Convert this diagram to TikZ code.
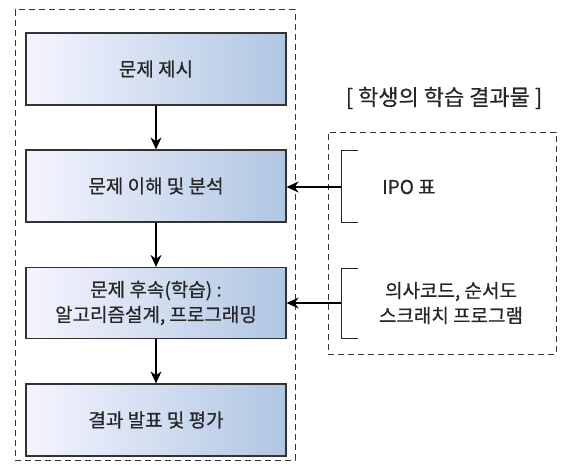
\documentclass[tikz,border=0pt]{standalone}
\usepackage{fontspec}
\newfontfamily\kr[FakeBold=0.6]{Noto Sans CJK KR}
\usetikzlibrary{arrows.meta}
\begin{document}
\begin{tikzpicture}[x=1pt,y=-1pt,
  stepbox/.style={draw=black!80, line width=1.2pt, left color=blue!4!white, right color={rgb,255:red,176;green,198;blue,226}, minimum width=260pt, minimum height=72pt, inner sep=0pt, align=center, font=\kr\fontsize{19}{25}\selectfont, text=black!85},
  dbox/.style={draw=black!80, line width=1pt, dash pattern=on 6pt off 4pt},
  arr/.style={line width=1.3pt, -{Stealth[length=12pt,width=11pt]}},
  lbl/.style={font=\kr\fontsize{19}{25}\selectfont, text=black!85, align=center, inner sep=0pt}]
\useasboundingbox (0,0) rectangle (561,468);
\node[dbox, minimum width=280pt, minimum height=450pt, inner sep=0pt] (outer) at (155,235) {};
\node[stepbox] (b1) at (156,69) {문제 제시};
\node[stepbox] (b2) at (156,186) {문제 이해 및 분석};
\node[stepbox, minimum height=71pt] (b3) at (156,303) {문제 후속(학습) :\\알고리즘설계, 프로그래밍};
\node[stepbox] (b4) at (156,420) {결과 발표 및 평가};
\draw[arr] (b1) -- (b2);
\draw[arr] (b2) -- (b3);
\draw[arr] (b3) -- (b4);
\node[dbox, minimum width=228pt, minimum height=222pt, inner sep=0pt] (res) at (442,243) {};
\node[lbl, font=\kr\fontsize{22}{26}\selectfont] (title) at (444,98) {[ 학생의 학습 결과물 ]};
\coordinate (k1) at (341,187);
\coordinate (k2) at (341,303);
\draw[line width=1pt, black!85] (358,150) -- (341,150) -- (341,222) -- (358,222);
\draw[line width=1pt, black!85] (358,268) -- (341,268) -- (341,338) -- (358,338);
\draw[arr] (k1) -- (b2.east |- k1);
\draw[arr] (k2) -- (b3.east |- k2);
\node[lbl, anchor=west] (t1) at (382,187) {IPO 표};
\node[lbl] (t2) at (451,303) {의사코드, 순서도\\스크래치 프로그램};
\end{tikzpicture}
\end{document}
